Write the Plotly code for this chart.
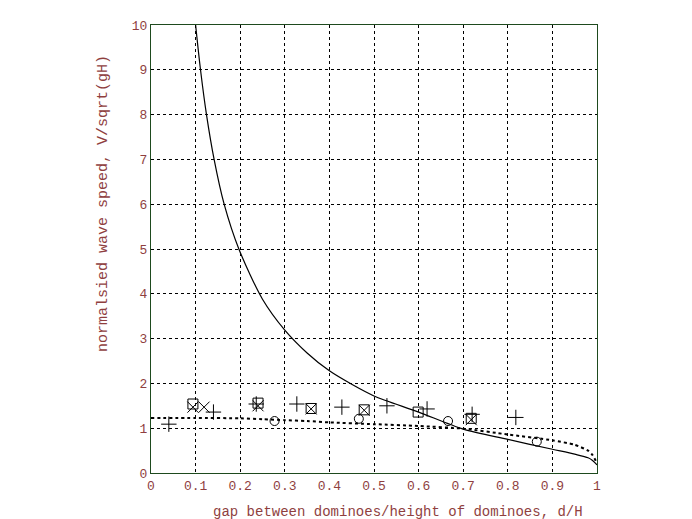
import plotly.graph_objects as go

# experimental points
plus_x = [0.04, 0.14, 0.236, 0.327, 0.428, 0.529, 0.619, 0.72, 0.818]
plus_y = [1.09, 1.36, 1.54, 1.54, 1.47, 1.50, 1.43, 1.31, 1.24]
square_x = [0.094, 0.24, 0.359, 0.478, 0.599, 0.718]
square_y = [1.54, 1.56, 1.44, 1.41, 1.36, 1.22]
cross_x = [0.094, 0.119, 0.24, 0.359, 0.478, 0.718]
cross_y = [1.47, 1.47, 1.50, 1.43, 1.40, 1.19]
circle_x = [0.277, 0.466, 0.666, 0.865]
circle_y = [1.16, 1.21, 1.16, 0.70]

# theory curves
solid_x = [0.1, 0.111, 0.1244, 0.1415, 0.164, 0.197, 0.25, 0.3, 0.35, 0.4,
           0.45, 0.5, 0.6, 0.7, 0.8, 0.9, 0.95, 0.98, 0.99, 1.0]
solid_y = [10, 9, 8, 7, 6, 5, 3.88, 3.19, 2.68, 2.28,
           1.98, 1.72, 1.36, 0.98, 0.75, 0.53, 0.42, 0.34, 0.28, 0.18]
dotted_x = [0, 0.1, 0.2, 0.25, 0.3, 0.35, 0.4, 0.5, 0.6, 0.7, 0.8, 0.9, 0.95, 0.98, 0.99, 1.0]
dotted_y = [1.23, 1.23, 1.22, 1.2, 1.18, 1.16, 1.13, 1.09, 1.05, 0.99, 0.86, 0.73, 0.63, 0.5, 0.4, 0.22]

x_ticks = [0, 0.1, 0.2, 0.3, 0.4, 0.5, 0.6, 0.7, 0.8, 0.9, 1]
x_tick_labels = ["0", "0.1", "0.2", "0.3", "0.4", "0.5", "0.6", "0.7", "0.8", "0.9", "1"]
y_ticks = list(range(0, 11))

TXT = "#8f3f3f"
FONT = "Liberation Mono"

fig = go.Figure()
fig.add_trace(go.Scatter(x=solid_x, y=solid_y, mode="lines", line=dict(color="black", width=1.2, shape="spline", smoothing=0.8)))
fig.add_trace(go.Scatter(x=dotted_x, y=dotted_y, mode="lines", line=dict(color="black", width=2, dash="dot", shape="spline", smoothing=0.6)))
mk = dict(color="black", size=11, line=dict(color="black", width=1))
fig.add_trace(go.Scatter(x=plus_x, y=plus_y, mode="markers", marker=dict(symbol="cross-thin-open", **mk)))
fig.add_trace(go.Scatter(x=square_x, y=square_y, mode="markers", marker=dict(symbol="square-open", color="black", size=10, line=dict(color="black", width=1))))
fig.add_trace(go.Scatter(x=cross_x, y=cross_y, mode="markers", marker=dict(symbol="x-thin-open", **mk)))
fig.add_trace(go.Scatter(x=circle_x, y=circle_y, mode="markers", marker=dict(symbol="circle-open", color="black", size=9, line=dict(color="black", width=1))))

fig.update_layout(
    width=692, height=519,
    margin=dict(l=151, r=95, t=25, b=46),
    plot_bgcolor="white", paper_bgcolor="white",
    showlegend=False,
    font=dict(family=FONT, size=13, color=TXT),
    xaxis=dict(range=[0, 1], tickvals=x_ticks, ticktext=x_tick_labels, showgrid=True,
               gridcolor="black", griddash="dot", gridwidth=1, zeroline=False,
               showline=True, linecolor="#1e4a1e", linewidth=1, mirror=True, ticks="",
               tickfont=dict(family=FONT, size=13, color=TXT), fixedrange=True),
    yaxis=dict(range=[0, 10], tickvals=y_ticks, showgrid=True,
               gridcolor="black", griddash="dot", gridwidth=1, zeroline=False,
               showline=True, linecolor="#1e4a1e", linewidth=1, mirror=True, ticks="",
               tickfont=dict(family=FONT, size=13, color=TXT), fixedrange=True),
    annotations=[
        dict(text="gap between dominoes/height of dominoes, d/H", xref="paper", yref="paper",
             x=(398 - 151) / 446, y=-(512 - 473) / 448, xanchor="center", yanchor="middle",
             showarrow=False, font=dict(family=FONT, size=14, color=TXT)),
        dict(text="normalsied wave speed, V/sqrt(gH)", xref="paper", yref="paper",
             x=-(151 - 103) / 446, y=(473 - 204) / 448, xanchor="center", yanchor="middle",
             textangle=-90, showarrow=False, font=dict(family=FONT, size=15, color=TXT)),
    ],
)
fig.write_html("out.html", config={"displayModeBar": False},
               post_script="document.body.style.margin='0';document.body.style.padding='0';")
